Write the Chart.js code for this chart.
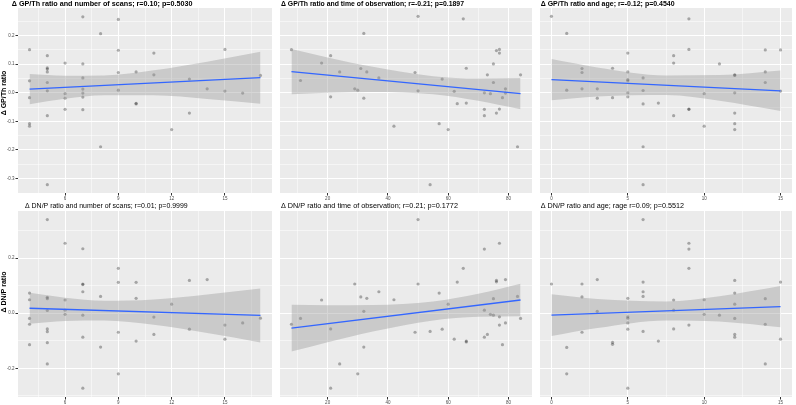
<!DOCTYPE html>
<html>
<head>
<meta charset="utf-8">
<script src="https://cdn.jsdelivr.net/npm/chart.js@4"></script>
<style>
  body { margin: 0; background: #fff; width: 796px; height: 405px; position: relative; overflow: hidden; }
  canvas { position: absolute; }
</style>
</head>
<body>
<canvas id="p1"></canvas>
<canvas id="p2"></canvas>
<canvas id="p3"></canvas>
<canvas id="p4"></canvas>
<canvas id="p5"></canvas>
<canvas id="p6"></canvas>
<script>
// x values (patients), grouped the same way in top and bottom rows
const scans = [4,4,4,4,4,5,5,5,5,5,5,5,5,6,6,6,6,7,7,7,7,7,7,7,8,8,9,9,9,9,10,10,10,11,11,12,13,13,14,15,15,16,17];
const months = [8,11,18,21,21,24,29,30,31,32,32,33,37,42,49,50,50,54,57,58,60,62,63,65,66,66,72,72,72,73,74,75,75,76,76,77,77,77,78,79,79,83,84];
const ages = [0,1,1,2,2,2,3,3,4,4,5,5,5,5,5,5,6,6,6,6,6,7,8,8,8,9,9,9,9,10,10,11,12,12,12,12,12,12,14,14,14,15,15];

// delta GP/Th ratio
const gpScans = [0.151,0.042,-0.017,-0.108,-0.117, 0.130,0.087,0.083,0.073,0.036,0.007,-0.080,-0.322,
  0.104,-0.003,-0.019,-0.058, 0.266,0.101,0.052,0.013,-0.001,-0.015,-0.059, 0.207,-0.189,
  0.257,0.149,0.071,0.009, 0.073,-0.037,-0.039, 0.139,0.063, -0.129, 0.048,-0.071, 0.014,
  0.152,0.006, -0.001, 0.061];
const gpMonths = [0.151,0.043,0.104,0.130,-0.014,0.073,0.014,0.009,0.085,0.208,-0.019,0.073,0.052,-0.117,
  0.071,0.268,0.007,-0.322,-0.108,0.048,-0.129,0.005,-0.038,0.259,0.086,-0.036,0.000,-0.058,-0.080,
  0.063,-0.003,0.101,0.036,0.148,-0.071,0.152,0.139,-0.057,-0.017,0.014,-0.001,-0.189,0.063];
const gpAges = [0.268, 0.208,0.009, 0.085,0.071,0.014, 0.014,-0.019, 0.086,-0.017,
  0.139,0.073,0.046,0.042,0.000,-0.014, 0.052,0.008,-0.039,-0.189,-0.322, -0.036,
  0.130,0.104,-0.080, 0.259,0.152,-0.057,-0.058, -0.003,-0.117, 0.101,
  0.063,0.061,0.000,-0.071,-0.108,-0.129, 0.150,0.073,0.036, 0.150,0.006];

// delta DN/P ratio
const dnScans = [0.073,0.049,-0.019,-0.040,-0.114, 0.340,0.058,0.053,0.010,-0.057,-0.067,-0.107,-0.184,
  0.254,0.048,0.011,-0.004, 0.234,0.106,0.104,0.078,-0.007,-0.087,-0.272, 0.061,-0.123,
  0.163,0.112,-0.069,-0.220, 0.112,0.054,-0.101, -0.014,-0.077, 0.033, 0.119,-0.058, 0.122,
  -0.043,-0.094, -0.035, -0.018];
const dnMonths = [-0.040,-0.019,0.048,-0.057,-0.272,-0.184,0.106,-0.220,0.059,0.007,-0.123,0.054,0.078,
  0.049,-0.069,0.340,0.106,-0.066,0.073,-0.058,0.033,-0.094,0.113,0.163,-0.101,-0.104,0.233,0.011,
  -0.087,-0.077,-0.004,0.053,-0.007,0.119,0.114,0.254,-0.013,-0.043,-0.114,0.122,-0.035,0.061,-0.019];
const dnAges = [0.106, -0.124,-0.220, 0.106,0.059,-0.069, 0.122,0.007, -0.106,-0.113,
  0.054,-0.013,-0.018,-0.035,-0.058,-0.272, 0.340,0.113,0.078,0.061,-0.066, -0.101,
  0.048,0.011,-0.057, 0.254,0.233,0.163,-0.043, 0.049,-0.004, -0.007,
  0.119,0.073,0.033,-0.019,-0.077,-0.087, 0.053,-0.040,-0.184, 0.113,-0.094];

// fitted lines (end points) and confidence bands
const fitScans = [4, 17];
const fitMonths = [8, 84];
const fitAges = [0, 15];
const gpScansFit = [0.013, 0.053];
const gpMonthsFit = [0.074, -0.003];
const gpAgesFit = [0.046, 0.007];
const dnScansFit = [0.018, -0.008];
const dnMonthsFit = [-0.054, 0.048];
const dnAgesFit = [-0.007, 0.024];

const bandScans = [4, 6, 8.2, 11, 14, 17];
const bandMonths = [8, 20, 35, 55, 70, 84];
const bandAges = [0, 3, 7.5, 11, 15];
const gpScansLo = [-0.040, -0.021, -0.009, -0.009, -0.022, -0.038];
const gpScansHi = [0.066, 0.060, 0.061, 0.079, 0.109, 0.144];
const gpMonthsLo = [-0.005, 0.000, 0.003, -0.005, -0.028, -0.058];
const gpMonthsHi = [0.153, 0.124, 0.091, 0.058, 0.050, 0.052];
const gpAgesLo = [-0.026, -0.013, -0.008, -0.028, -0.064];
const gpAgesHi = [0.118, 0.089, 0.061, 0.062, 0.078];
const dnScansLo = [-0.038, -0.028, -0.026, -0.042, -0.072, -0.106];
const dnScansHi = [0.074, 0.056, 0.045, 0.050, 0.068, 0.090];
const dnMonthsLo = [-0.139, -0.105, -0.066, -0.026, -0.013, -0.011];
const dnMonthsHi = [0.031, 0.029, 0.030, 0.043, 0.071, 0.107];
const dnAgesLo = [-0.083, -0.054, -0.026, -0.030, -0.051];
const dnAgesHi = [0.069, 0.052, 0.043, 0.062, 0.099];

// grid lines (major + minor) and labelled ticks
const scanGrid = [4.5, 6, 7.5, 9, 10.5, 12, 13.5, 15, 16.5];
const scanLabels = [6, 9, 12, 15];
const monthGrid = [10, 20, 30, 40, 50, 60, 70, 80];
const monthLabels = [20, 40, 60, 80];
const ageGrid = [0, 2.5, 5, 7.5, 10, 12.5, 15];
const ageLabels = [0, 5, 10, 15];
const gpGrid = [-0.3, -0.25, -0.2, -0.15, -0.1, -0.05, 0, 0.05, 0.1, 0.15, 0.2, 0.25];
const gpLabels = [-0.3, -0.2, -0.1, 0, 0.1, 0.2];
const dnGrid = [-0.3, -0.2, -0.1, 0, 0.1, 0.2, 0.3];
const dnLabels = [-0.2, 0, 0.2];

const FONT = '"Liberation Sans", Arial, sans-serif';

const deco = {
  id: 'deco',
  beforeDraw(chart) {
    const a = chart.chartArea, ctx = chart.ctx;
    ctx.save();
    ctx.fillStyle = '#EBEBEB';
    ctx.fillRect(a.left, a.top, a.right - a.left, a.bottom - a.top);
    ctx.restore();
  },
  afterDraw(chart, args, o) {
    const ctx = chart.ctx;
    ctx.save();
    ctx.fillStyle = '#000';
    ctx.textBaseline = 'alphabetic';
    ctx.font = o.weight + ' 10px ' + FONT;
    const size = 10 * o.titleW / ctx.measureText(o.title).width;
    ctx.font = o.weight + ' ' + size.toFixed(2) + 'px ' + FONT;
    ctx.fillText(o.title, o.titleX, o.titleY);
    if (o.yTitle) {
      ctx.translate(o.yTitleX, o.yTitleY);
      ctx.rotate(-Math.PI / 2);
      ctx.textAlign = 'center';
      ctx.font = 'bold ' + o.yTitleSize + 'px ' + FONT;
      ctx.fillText(o.yTitle, 0, 0);
    }
    ctx.restore();
  }
};

function pts(xs, ys) {
  return xs.map((x, i) => ({ x: x, y: ys[i] }));
}

function panel(id, p) {
  const el = document.getElementById(id);
  el.width = p.w;
  el.height = p.h;
  el.style.left = p.left + 'px';
  el.style.top = p.top + 'px';
  const firstCol = p.yTitle != null;
  new Chart(el, {
    type: 'scatter',
    data: {
      datasets: [
        { type: 'line', data: pts(p.fitX, p.fitY), borderColor: '#3366FF', borderWidth: 1.3, pointRadius: 0, fill: false },
        { type: 'line', data: pts(p.bandX, p.hi), borderColor: 'transparent', borderWidth: 0, pointRadius: 0,
          fill: '+1', backgroundColor: 'rgba(153,153,153,0.4)', cubicInterpolationMode: 'monotone' },
        { type: 'line', data: pts(p.bandX, p.lo), borderColor: 'transparent', borderWidth: 0, pointRadius: 0,
          fill: false, cubicInterpolationMode: 'monotone' },
        { type: 'scatter', data: pts(p.xs, p.ys), pointRadius: 1.6, backgroundColor: 'rgba(0,0,0,0.3)', borderWidth: 0 },
      ],
    },
    options: {
      responsive: false,
      animation: false,
      layout: { padding: { top: 8, left: 0, right: 0, bottom: 0 } },
      plugins: {
        legend: { display: false },
        tooltip: { enabled: false },
        deco: {
          title: p.title, titleX: p.titleX, titleY: p.titleY, titleW: p.titleW, weight: p.weight,
          yTitle: p.yTitle, yTitleX: 5.5, yTitleY: p.yTitleY, yTitleSize: 7,
        },
      },
      scales: {
        x: {
          type: 'linear', min: p.xMin, max: p.xMax,
          afterBuildTicks: (s) => { s.ticks = p.xGrid.map((v) => ({ value: v })); },
          afterFit: (s) => { s.height = p.xAxisH; },
          border: { display: false },
          grid: {
            color: '#fff',
            lineWidth: (c) => (p.xLabels.includes(c.tick.value) ? 1 : 0.5),
            tickLength: 2.5,
            tickColor: (c) => (p.xLabels.includes(c.tick.value) ? '#333' : 'rgba(0,0,0,0)'),
          },
          ticks: {
            autoSkip: false, maxRotation: 0, padding: 1, color: '#4D4D4D',
            font: { size: 4.5, family: FONT },
            callback: (v) => (p.xLabels.includes(v) ? String(v) : ''),
          },
        },
        y: {
          type: 'linear', min: p.yMin, max: p.yMax,
          afterBuildTicks: (s) => { s.ticks = p.yGrid.map((v) => ({ value: v })); },
          afterFit: (s) => { s.width = p.yAxisW; },
          border: { display: false },
          grid: {
            color: '#fff',
            lineWidth: (c) => (p.yLabels.includes(c.tick.value) ? 1 : 0.5),
            drawTicks: firstCol,
            tickLength: 2.5,
            tickColor: (c) => (p.yLabels.includes(c.tick.value) ? '#333' : 'rgba(0,0,0,0)'),
          },
          ticks: {
            display: firstCol, autoSkip: false, padding: 1, color: '#4D4D4D',
            font: { size: 4.5, family: FONT },
            callback: (v) => (p.yLabels.includes(v) ? v.toFixed(1) : ''),
          },
        },
      },
    },
    plugins: [deco],
  });
}

const topRow = { top: 0, h: 203, xAxisH: 10, yMin: -0.351, yMax: 0.297, yGrid: gpGrid, yLabels: gpLabels, titleY: 5.8, weight: 'bold' };
const botRow = { top: 203, h: 202, xAxisH: 8, yMin: -0.304, yMax: 0.371, yGrid: dnGrid, yLabels: dnLabels, titleY: 5.3, weight: 'normal' };
const col1 = { left: 0, w: 276, yAxisW: 18, xMin: 3.35, xMax: 17.65, xGrid: scanGrid, xLabels: scanLabels };
const col2 = { left: 276, w: 260, yAxisW: 2.5, xMin: 4.2, xMax: 87.8, xGrid: monthGrid, xLabels: monthLabels };
const col3 = { left: 536, w: 260, yAxisW: 3, xMin: -0.75, xMax: 15.75, xGrid: ageGrid, xLabels: ageLabels };

panel('p1', Object.assign({}, topRow, col1, {
  xs: scans, ys: gpScans, fitX: fitScans, fitY: gpScansFit, bandX: bandScans, lo: gpScansLo, hi: gpScansHi,
  title: 'Δ GP/Th ratio and number of scans; r=0.10; p=0.5030', titleX: 11.7, titleW: 181,
  yTitle: 'Δ GP/Th ratio', yTitleY: 93,
}));
panel('p2', Object.assign({}, topRow, col2, {
  xs: months, ys: gpMonths, fitX: fitMonths, fitY: gpMonthsFit, bandX: bandMonths, lo: gpMonthsLo, hi: gpMonthsHi,
  title: 'Δ GP/Th ratio and time of observation; r=-0.21; p=0.1897', titleX: 5, titleW: 183,
}));
panel('p3', Object.assign({}, topRow, col3, {
  xs: ages, ys: gpAges, fitX: fitAges, fitY: gpAgesFit, bandX: bandAges, lo: gpAgesLo, hi: gpAgesHi,
  title: 'Δ GP/Th ratio and age; r=-0.12; p=0.4540', titleX: 4.7, titleW: 134,
}));
panel('p4', Object.assign({}, botRow, col1, {
  xs: scans, ys: dnScans, fitX: fitScans, fitY: dnScansFit, bandX: bandScans, lo: dnScansLo, hi: dnScansHi,
  title: 'Δ DN/P ratio and number of scans; r=0.01; p=0.9999', titleX: 25, titleW: 163,
  yTitle: 'Δ DN/P ratio', yTitleY: 89,
}));
panel('p5', Object.assign({}, botRow, col2, {
  xs: months, ys: dnMonths, fitX: fitMonths, fitY: dnMonthsFit, bandX: bandMonths, lo: dnMonthsLo, hi: dnMonthsHi,
  title: 'Δ DN/P ratio and time of observation; r=0.21; p=0.1772', titleX: 5, titleW: 177,
}));
panel('p6', Object.assign({}, botRow, col3, {
  xs: ages, ys: dnAges, fitX: fitAges, fitY: dnAgesFit, bandX: bandAges, lo: dnAgesLo, hi: dnAgesHi,
  title: 'Δ DN/P ratio and age; rage r=0.09; p=0.5512', titleX: 4.7, titleW: 143.6,
}));
</script>
</body>
</html>
